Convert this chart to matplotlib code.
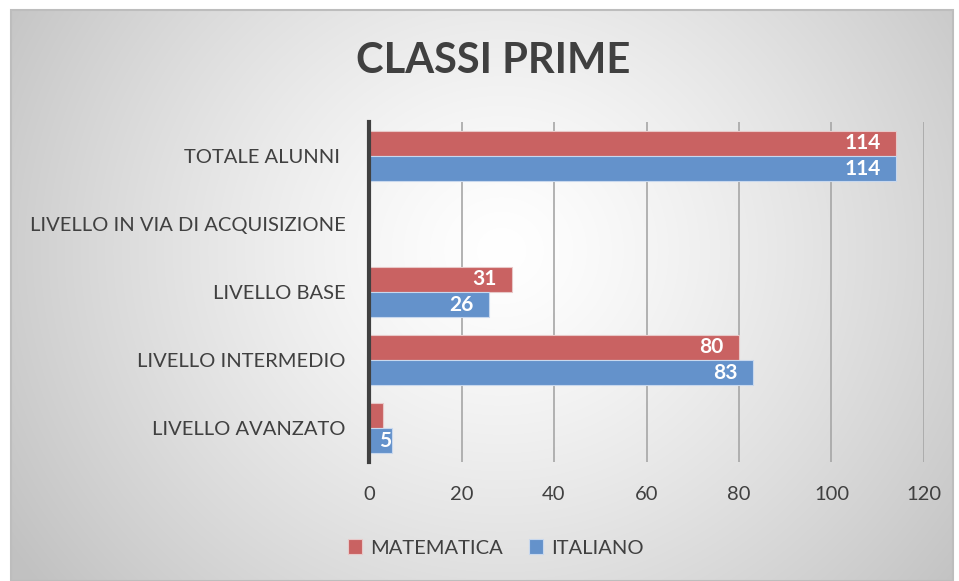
import numpy as np
import matplotlib
matplotlib.use("Agg")
import matplotlib.pyplot as plt
from matplotlib.patches import Rectangle

categories = ["LIVELLO AVANZATO", "LIVELLO INTERMEDIO", "LIVELLO BASE",
              "LIVELLO IN VIA DI ACQUISIZIONE", "TOTALE ALUNNI "]
matematica = [3, 80, 31, 0, 114]
italiano = [5, 83, 26, 0, 114]
mat_labels = ["", "80", "31", "", "114"]
ita_labels = ["5", "83", "26", "", "114"]
xticks = [0, 20, 40, 60, 80, 100, 120]
title = "CLASSI PRIME"
series_names = ["MATEMATICA", "ITALIANO"]

RED = "#C96262"
BLUE = "#6492CB"
TXT = "#404040"
FONT = "Lato"

W, H = 959, 581
fig = plt.figure(figsize=(W / 100, H / 100), dpi=100)
fig.patch.set_facecolor("white")

# background panel with radial gradient
bg = fig.add_axes([11 / W, 0, (953 - 11) / W, 1 - 10 / H], zorder=0)
ny, nx = 300, 500
yy, xx = np.mgrid[0:ny, 0:nx]
cx, cy = 0.52 * nx, 0.42 * ny
r = np.sqrt(((xx - cx) / (nx * 0.62)) ** 2 + ((yy - cy) / (ny * 0.95)) ** 2)
r = np.clip(r, 0, 1)
val = 1.0 - 0.24 * r ** 1.3
img = np.dstack([val, val, val])
bg.imshow(img, aspect="auto", extent=[0, 1, 0, 1], interpolation="bicubic")
bg.set_xlim(0, 1)
bg.set_ylim(0, 1)
bg.axis("off")
bg.add_patch(Rectangle((0, 0), 1, 1, transform=bg.transAxes, fill=False,
                       edgecolor="#bdbdbd", linewidth=1.5, clip_on=False))

ax = fig.add_axes([369 / W, 1 - 462 / H, (924 - 369) / W, (462 - 122) / H], zorder=2)
ax.patch.set_alpha(0)

y = np.arange(len(categories))
h = 0.37
b1 = ax.barh(y + h / 2, matematica, height=h, color=RED, edgecolor="#e8c8c8",
             linewidth=0.8, zorder=3)
b2 = ax.barh(y - h / 2, italiano, height=h, color=BLUE, edgecolor="#c8d8ee",
             linewidth=0.8, zorder=3)

for vals, labs, off in ((matematica, mat_labels, h / 2), (italiano, ita_labels, -h / 2)):
    for yi, v, lab in zip(y, vals, labs):
        if lab:
            pad = -11 if v > 10 else -1
            ax.annotate(lab, xy=(v, yi + off), xytext=(pad, 0),
                        textcoords="offset points", ha="right", va="center",
                        color="white", fontsize=15, fontweight="bold",
                        family=FONT, zorder=5)

ax.set_xlim(0, 120)
ax.set_ylim(-0.5, len(categories) - 0.5)
ax.set_xticks(xticks)
ax.set_xticklabels([str(t) for t in xticks])
ax.set_yticks(y)
ax.set_yticklabels(categories)
ax.tick_params(axis="both", length=0, labelcolor=TXT, labelsize=14.5)
ax.tick_params(axis="x", pad=17)
ax.tick_params(axis="y", pad=17)
for lab in ax.get_xticklabels() + ax.get_yticklabels():
    lab.set_family(FONT)

ax.grid(axis="x", color="#a6a6a6", linewidth=1.2, zorder=1)
ax.set_axisbelow(True)
for s in ["top", "right", "bottom"]:
    ax.spines[s].set_visible(False)
ax.spines["left"].set_color("#404040")
ax.spines["left"].set_linewidth(3)
ax.spines["left"].set_zorder(4)

fig.text(493 / W, 1 - 61 / H, title, ha="center", va="center",
         fontsize=30, fontweight="bold", color=TXT, family=FONT)

# legend
leg = fig.legend(handles=[b1, b2], labels=series_names, loc="center",
                 bbox_to_anchor=(496 / W, 1 - 548 / H), ncol=2, frameon=False,
                 prop={"family": FONT, "size": 14.5}, handlelength=0.7,
                 handleheight=0.7, columnspacing=1.3, handletextpad=0.4)
for t in leg.get_texts():
    t.set_color(TXT)

fig.savefig("out.png", dpi=100, facecolor=fig.get_facecolor())
